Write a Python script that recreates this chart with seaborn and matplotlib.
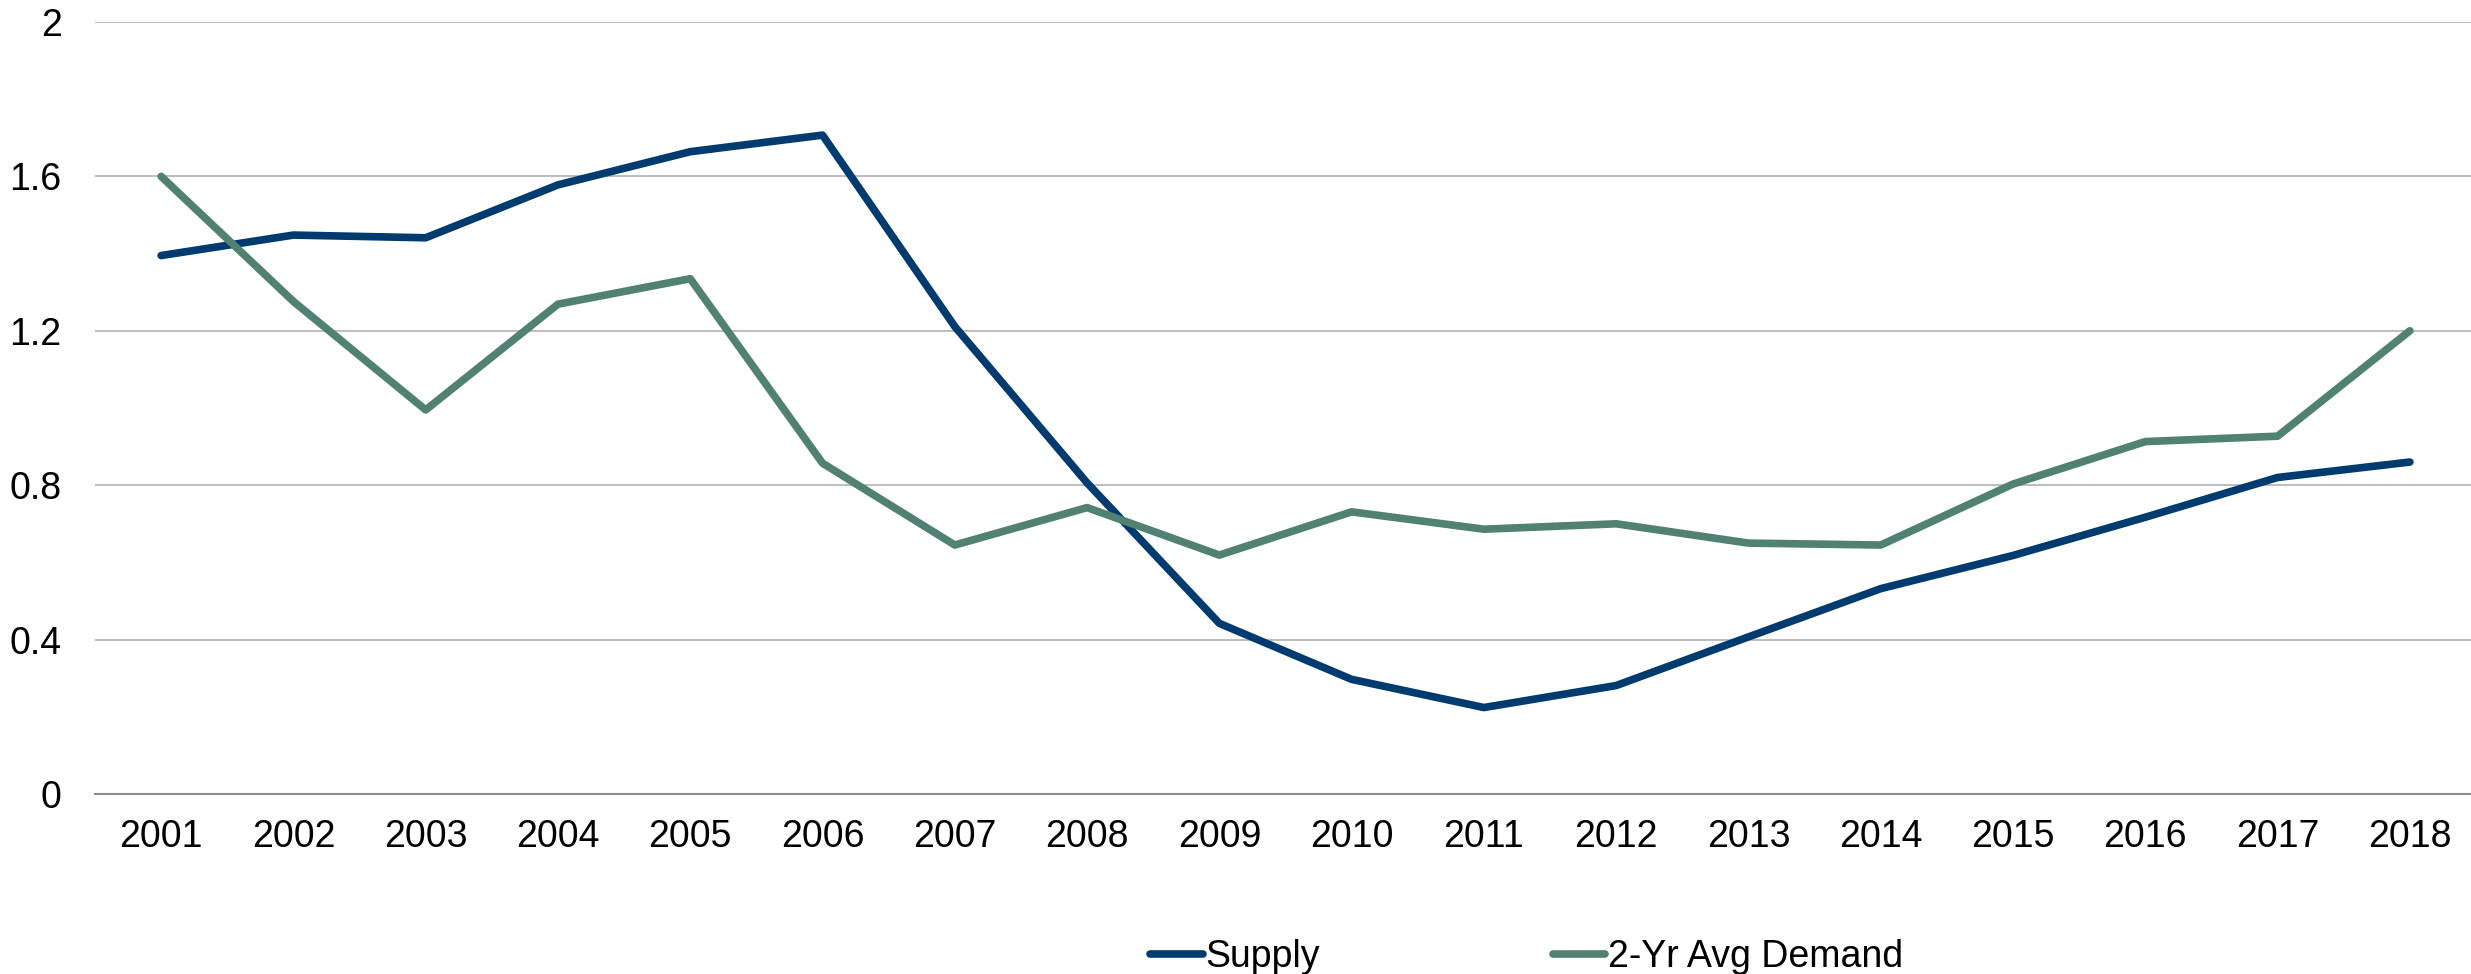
import numpy as np
import pandas as pd
import seaborn as sns
import matplotlib.pyplot as plt

# data
years = [str(y) for y in range(2001, 2019)]
supply = [1.395, 1.448, 1.441, 1.578, 1.664, 1.707, 1.211, 0.806, 0.442,
          0.297, 0.224, 0.281, 0.407, 0.532, 0.618, 0.717, 0.820, 0.860]
demand = [1.600, 1.276, 0.995, 1.269, 1.335, 0.857, 0.645, 0.742, 0.619,
          0.731, 0.686, 0.700, 0.650, 0.645, 0.803, 0.913, 0.927, 1.200]
series_names = ["Supply", "2-Yr Avg Demand"]
colors = ["#003B70", "#508172"]
y_ticks = [0, 0.4, 0.8, 1.2, 1.6, 2]
y_ticklabels = ["0", "0.4", "0.8", "1.2", "1.6", "2"]

df = pd.DataFrame({
    "pos": list(range(len(years))) * 2,
    "value": supply + demand,
    "series": [series_names[0]] * len(years) + [series_names[1]] * len(years),
})

sns.set_theme(style="white")
plt.rcParams["font.family"] = ["Liberation Sans", "DejaVu Sans"]

fig = plt.figure(figsize=(24.71, 9.74), dpi=100)
ax = fig.add_axes([95 / 2471, 180 / 974, 2381 / 2471, 772 / 974])

sns.lineplot(data=df, x="pos", y="value", hue="series", hue_order=series_names,
             palette=colors, linewidth=5.5, ax=ax, legend=False)

ax.set_xlim(-0.5, len(years) - 0.5)
ax.set_ylim(0, 2)
ax.set_yticks(y_ticks)
ax.set_yticklabels(y_ticklabels)
ax.set_xticks(range(len(years)))
ax.set_xticklabels(years)
ax.set_xticks(np.arange(-0.5, len(years), 1.0), minor=True)
ax.tick_params(axis="x", which="major", length=0, pad=18, labelsize=27, colors="black")
ax.tick_params(axis="x", which="minor", direction="in", length=8, width=1.5, color="#8C8C8C")
ax.tick_params(axis="y", length=0, pad=24, labelsize=27, colors="black")
ax.set_xlabel("")
ax.set_ylabel("")

ax.yaxis.grid(True, color="#BFBFBF", linewidth=1.5)
ax.set_axisbelow(True)
for side in ["top", "right", "left"]:
    ax.spines[side].set_visible(False)
ax.spines["bottom"].set_color("#8C8C8C")
ax.spines["bottom"].set_linewidth(1.5)

# legend at the bottom
handles = [plt.Line2D([], [], color=c, linewidth=5.5, solid_capstyle="round") for c in colors]
fig.legend(handles, series_names, loc="center left", bbox_to_anchor=(1150 / 2471, 17 / 974),
           ncol=2, frameon=False, handlelength=1.4, handletextpad=0.08, columnspacing=6.2,
           borderpad=0, borderaxespad=0, prop={"size": 27}, labelcolor="black")

fig.savefig("out.png", dpi=100)
